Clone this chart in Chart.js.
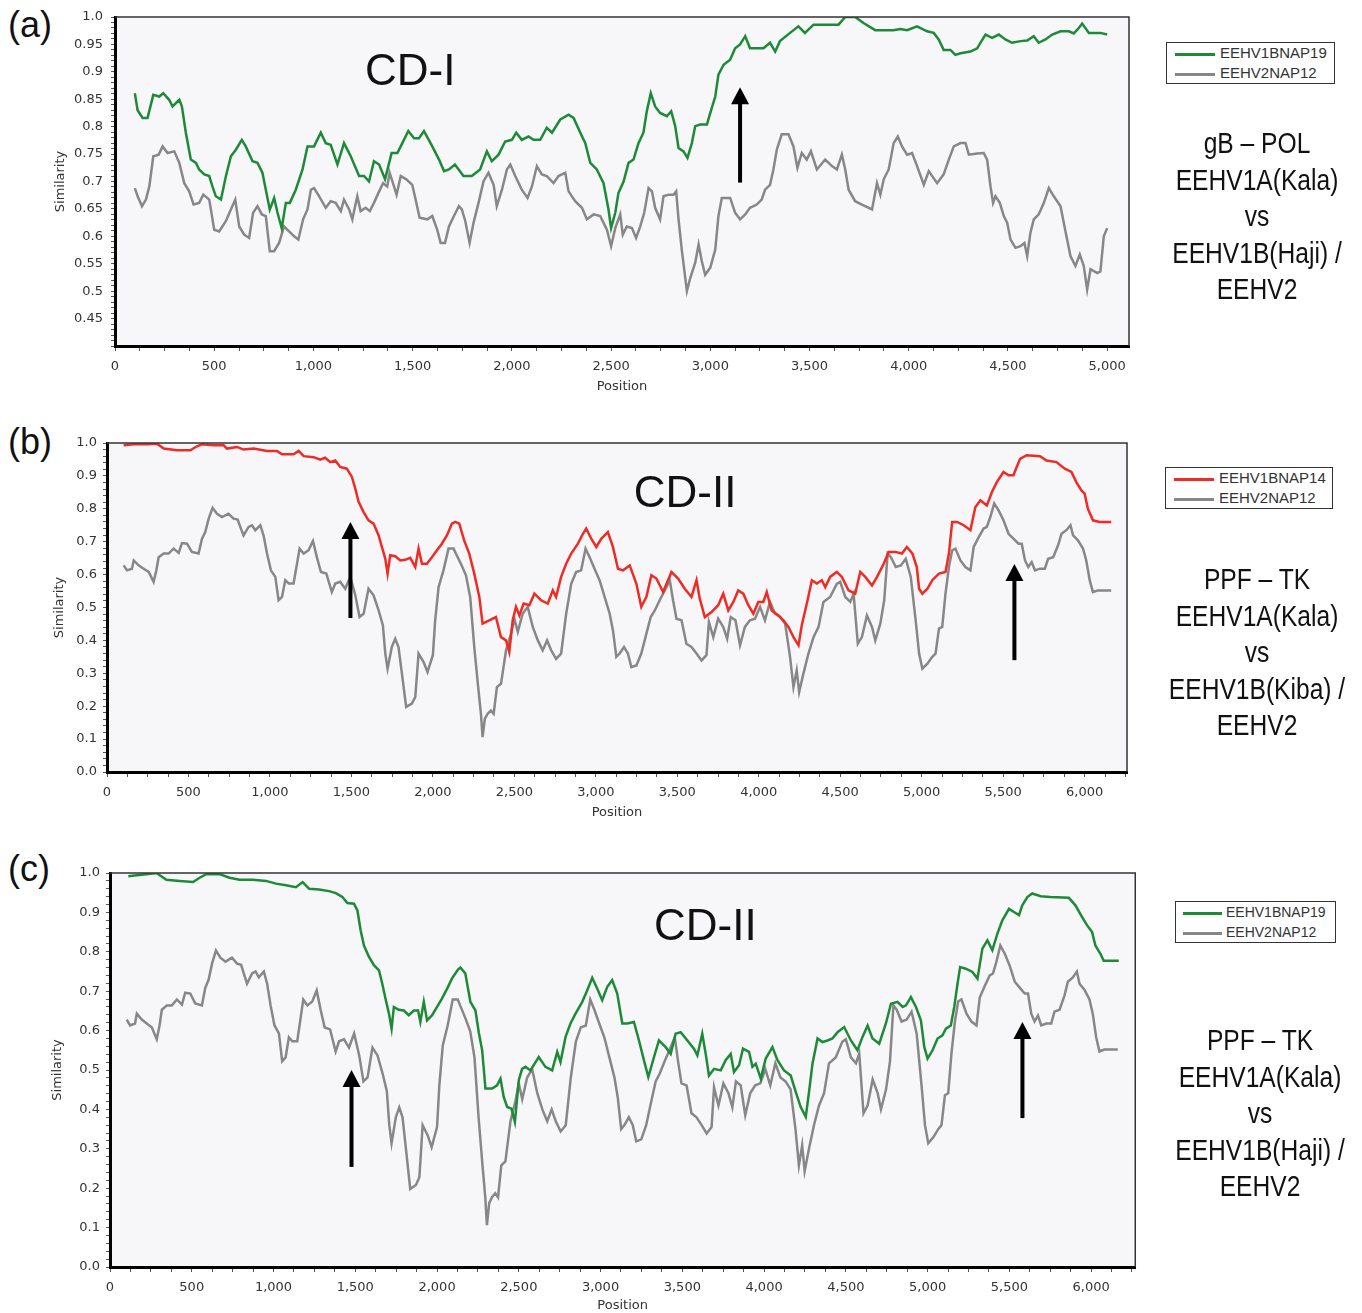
<!DOCTYPE html>
<html>
<head>
<meta charset="utf-8">
<title>Similarity plots</title>
<script src="https://cdn.jsdelivr.net/npm/chart.js@4.4.1/dist/chart.umd.min.js"></script>
<style>
    body {
        margin: 0;
        width: 1362px;
        height: 1313px;
        background: #fff;
        font-family: "Liberation Sans", Arial, sans-serif;
        overflow: hidden;
        position: relative;
    }

    canvas {
        position: absolute;
        left: 0;
    }

    .panel-tag {
        position: absolute;
        left: 8px;
        font-size: 36px;
        line-height: 40px;
        color: #111;
    }

    .legend {
        position: absolute;
        border: 1.5px solid #333;
        background: #fff;
        font-size: 15px;
        color: #333;
    }

    .legend .row {
        height: 20px;
        line-height: 20px;
        white-space: nowrap;
    }

    .legend .swatch {
        display: inline-block;
        width: 40px;
        height: 3px;
        margin: 0 5px 0 8px;
        vertical-align: middle;
    }

    #legendC {
        font-size: 14px;
    }

    #legendC .swatch {
        width: 39px;
        margin: 0 4px 0 7px;
    }

    .side {
        position: absolute;
        width: 300px;
        text-align: center;
        font-size: 30px;
        line-height: 36.5px;
        color: #111;
        transform: scaleX(0.82);
    }
</style>
</head>
<body>

<div class="panel-tag" style="top: 5px">(a)</div>
<div class="panel-tag" style="top: 422px">(b)</div>
<div class="panel-tag" style="top: 849px">(c)</div>

<canvas id="chartA" width="1140" height="400" style="top: 0"></canvas>
<canvas id="chartB" width="1140" height="406" style="top: 420px"></canvas>
<canvas id="chartC" width="1140" height="463" style="top: 850px"></canvas>

<div class="legend" id="legendA" style="left: 1166px; top: 42px; width: 167px"></div>
<div class="legend" id="legendB" style="left: 1165px; top: 467px; width: 166px"></div>
<div class="legend" id="legendC" style="left: 1175px; top: 901px; width: 159px"></div>

<div class="side" style="left: 1107px; top: 125px">gB – POL<br>EEHV1A(Kala)<br>vs<br>EEHV1B(Haji) /<br>EEHV2</div>
<div class="side" style="left: 1107px; top: 561px">PPF – TK<br>EEHV1A(Kala)<br>vs<br>EEHV1B(Kiba) /<br>EEHV2</div>
<div class="side" style="left: 1110px; top: 1022px">PPF – TK<br>EEHV1A(Kala)<br>vs<br>EEHV1B(Haji) /<br>EEHV2</div>

<script>
// =========================
// DATA (a) gB - POL
// =========================

const aGreenPos = [
    100, 114, 139, 164, 193, 223, 243, 273, 290, 324, 337, 357, 382, 408, 424, 450, 475, 491, 508, 534,
    559, 584, 609, 639, 659, 693, 718, 743, 760, 780, 802, 819, 840, 861, 881, 911, 945, 970, 1003, 1037,
    1062, 1087, 1121, 1154, 1188, 1230, 1255, 1280, 1305, 1331, 1361, 1394, 1423, 1448, 1478, 1507, 1532, 1557, 1599, 1633,
    1658, 1683, 1713, 1756, 1798, 1840, 1874, 1899, 1933, 1966, 2000, 2022, 2050, 2084, 2109, 2143, 2176, 2202, 2244, 2286,
    2311, 2345, 2370, 2395, 2428, 2462, 2487, 2500, 2521, 2537, 2563, 2588, 2613, 2638, 2663, 2680, 2700, 2722, 2747, 2781,
    2803, 2823, 2840, 2865, 2885, 2907, 2924, 2949, 2983, 3000, 3025, 3041, 3067, 3100, 3125, 3150, 3176, 3200, 3234, 3268,
    3301, 3327, 3351, 3402, 3444, 3477, 3520, 3570, 3646, 3680, 3730, 3772, 3831, 3923, 3958, 3992, 4042, 4092, 4126, 4151,
    4176, 4210, 4235, 4261, 4311, 4345, 4361, 4387, 4420, 4454, 4487, 4521, 4563, 4597, 4630, 4655, 4689, 4723, 4765, 4807,
    4832, 4857, 4874, 4908, 4966, 5000
];
const aGreenSim = [
    0.861, 0.83, 0.816, 0.816, 0.858, 0.855, 0.861, 0.849, 0.837, 0.849, 0.837, 0.789, 0.74, 0.734, 0.722, 0.713, 0.71, 0.691, 0.673, 0.667,
    0.71, 0.746, 0.758, 0.776, 0.764, 0.737, 0.734, 0.716, 0.685, 0.649, 0.67, 0.643, 0.615, 0.661, 0.661, 0.685, 0.722, 0.764, 0.764, 0.789,
    0.77, 0.767, 0.731, 0.77, 0.746, 0.71, 0.71, 0.7, 0.737, 0.731, 0.704, 0.752, 0.752, 0.77, 0.792, 0.779, 0.779, 0.792, 0.764, 0.74,
    0.719, 0.722, 0.731, 0.71, 0.71, 0.722, 0.755, 0.737, 0.749, 0.773, 0.776, 0.789, 0.776, 0.782, 0.776, 0.776, 0.798, 0.789, 0.813, 0.822,
    0.816, 0.789, 0.77, 0.734, 0.722, 0.697, 0.649, 0.615, 0.643, 0.679, 0.7, 0.734, 0.74, 0.77, 0.789, 0.828, 0.861, 0.837, 0.825, 0.819,
    0.828, 0.801, 0.761, 0.755, 0.743, 0.77, 0.801, 0.804, 0.804, 0.825, 0.855, 0.895, 0.913, 0.922, 0.943, 0.95, 0.965, 0.943, 0.943, 0.943,
    0.953, 0.937, 0.956, 0.971, 0.983, 0.971, 0.986, 0.986, 0.986, 1.0, 1.0, 0.989, 0.976, 0.976, 0.978, 0.976, 0.983, 0.974, 0.971, 0.959,
    0.94, 0.94, 0.931, 0.934, 0.937, 0.943, 0.953, 0.968, 0.962, 0.968, 0.959, 0.953, 0.956, 0.957, 0.965, 0.953, 0.959, 0.968, 0.974, 0.974,
    0.97, 0.98, 0.988, 0.971, 0.971, 0.968
];

const aGrayPos = [
    100, 114, 136, 156, 173, 193, 220, 240, 265, 299, 324, 349, 374, 396, 424, 445, 475, 500, 525, 559,
    584, 606, 626, 651, 676, 696, 718, 740, 760, 780, 802, 827, 852, 877, 903, 924, 948, 970, 987, 1003,
    1029, 1062, 1087, 1112, 1138, 1154, 1180, 1196, 1221, 1238, 1263, 1284, 1305, 1331, 1351, 1372, 1384, 1406, 1419, 1440,
    1468, 1498, 1515, 1535, 1574, 1599, 1624, 1641, 1663, 1683, 1708, 1733, 1748, 1765, 1787, 1807, 1832, 1857, 1882, 1908,
    1924, 1950, 1975, 1992, 2017, 2050, 2079, 2101, 2126, 2151, 2176, 2210, 2235, 2269, 2286, 2319, 2353, 2378, 2412, 2445,
    2479, 2500, 2521, 2546, 2559, 2579, 2605, 2626, 2647, 2667, 2689, 2706, 2722, 2747, 2764, 2789, 2815, 2828, 2840, 2857,
    2882, 2899, 2924, 2941, 2957, 2974, 3000, 3025, 3041, 3058, 3100, 3125, 3150, 3176, 3200, 3234, 3259, 3276, 3301, 3318,
    3335, 3360, 3394, 3419, 3439, 3461, 3486, 3507, 3537, 3579, 3613, 3638, 3663, 3680, 3697, 3730, 3764, 3815, 3840, 3857,
    3874, 3899, 3924, 3945, 3966, 3992, 4017, 4042, 4076, 4101, 4143, 4176, 4202, 4227, 4261, 4286, 4303, 4345, 4378, 4395,
    4412, 4425, 4437, 4459, 4479, 4496, 4513, 4538, 4563, 4583, 4597, 4613, 4630, 4655, 4681, 4706, 4731, 4765, 4790, 4815,
    4840, 4862, 4882, 4899, 4916, 4950, 4966, 4983, 5000
];
const aGraySim = [
    0.688, 0.673, 0.655, 0.667, 0.691, 0.746, 0.749, 0.764, 0.752, 0.755, 0.734, 0.697, 0.682, 0.658, 0.661, 0.676, 0.667, 0.612, 0.609, 0.628,
    0.649, 0.667, 0.618, 0.603, 0.597, 0.643, 0.655, 0.64, 0.637, 0.573, 0.573, 0.588, 0.618, 0.609, 0.6, 0.594, 0.631, 0.649, 0.685, 0.688,
    0.673, 0.652, 0.664, 0.661, 0.646, 0.667, 0.649, 0.631, 0.673, 0.646, 0.652, 0.646, 0.661, 0.682, 0.697, 0.691, 0.716, 0.691, 0.676, 0.71,
    0.704, 0.694, 0.667, 0.634, 0.631, 0.637, 0.612, 0.588, 0.588, 0.618, 0.637, 0.655, 0.649, 0.628, 0.588, 0.625, 0.661, 0.7, 0.716, 0.694,
    0.655, 0.685, 0.722, 0.731, 0.71, 0.685, 0.67, 0.691, 0.728, 0.713, 0.71, 0.697, 0.71, 0.716, 0.682, 0.664, 0.652, 0.631, 0.64, 0.637,
    0.612, 0.582, 0.615, 0.64, 0.603, 0.618, 0.615, 0.597, 0.618, 0.643, 0.688, 0.682, 0.652, 0.631, 0.673, 0.676, 0.676, 0.682, 0.631, 0.573,
    0.5, 0.524, 0.552, 0.585, 0.555, 0.53, 0.543, 0.576, 0.637, 0.67, 0.67, 0.643, 0.631, 0.64, 0.652, 0.658, 0.667, 0.685, 0.694, 0.722,
    0.758, 0.786, 0.786, 0.764, 0.725, 0.752, 0.74, 0.755, 0.722, 0.74, 0.728, 0.722, 0.749, 0.722, 0.685, 0.664, 0.658, 0.649, 0.697, 0.676,
    0.704, 0.722, 0.77, 0.782, 0.764, 0.749, 0.752, 0.728, 0.694, 0.719, 0.697, 0.713, 0.74, 0.764, 0.77, 0.77, 0.749, 0.751, 0.752, 0.74,
    0.691, 0.661, 0.673, 0.661, 0.637, 0.625, 0.594, 0.579, 0.582, 0.588, 0.564, 0.606, 0.631, 0.64, 0.661, 0.688, 0.673, 0.655, 0.609, 0.564,
    0.546, 0.567, 0.546, 0.503, 0.54, 0.533, 0.536, 0.6, 0.615
];

// =========================
// DATA (b) PPF - TK, Kiba
// =========================

const bRedPos = [
    102, 164, 245, 307, 348, 429, 511, 552, 583, 654, 716, 736, 798, 838, 900, 982, 1043, 1074, 1145, 1176,
    1207, 1268, 1309, 1339, 1370, 1401, 1431, 1472, 1503, 1524, 1544, 1575, 1605, 1636, 1667, 1687, 1708, 1722, 1738, 1769,
    1800, 1830, 1861, 1892, 1912, 1933, 1963, 1994, 2025, 2055, 2086, 2117, 2137, 2162, 2192, 2223, 2254, 2285, 2305, 2346,
    2387, 2418, 2449, 2469, 2490, 2510, 2531, 2557, 2592, 2623, 2664, 2705, 2736, 2756, 2787, 2818, 2849, 2890, 2921, 2941,
    2972, 3003, 3033, 3074, 3105, 3136, 3167, 3208, 3249, 3279, 3310, 3341, 3372, 3413, 3464, 3505, 3546, 3587, 3618, 3638,
    3669, 3710, 3751, 3782, 3813, 3844, 3874, 3905, 3936, 3967, 3997, 4028, 4049, 4079, 4121, 4151, 4182, 4213, 4244, 4264,
    4295, 4326, 4356, 4387, 4408, 4438, 4479, 4510, 4551, 4592, 4623, 4654, 4695, 4726, 4767, 4797, 4838, 4879, 4909, 4943,
    4970, 4984, 5004, 5035, 5065, 5106, 5146, 5167, 5187, 5217, 5258, 5299, 5329, 5360, 5400, 5431, 5461, 5502, 5533, 5563,
    5583, 5604, 5644, 5726, 5766, 5827, 5878, 5919, 5949, 5980, 6000, 6020, 6051, 6091, 6163
];
const bRedSim = [
    0.993, 0.996, 0.996, 0.998, 0.983, 0.978, 0.978, 0.99, 0.996, 0.993, 0.993, 0.983, 0.988, 0.98, 0.983, 0.976, 0.976, 0.966, 0.966, 0.976,
    0.96, 0.957, 0.949, 0.955, 0.942, 0.947, 0.927, 0.922, 0.897, 0.861, 0.821, 0.79, 0.765, 0.755, 0.719, 0.684, 0.648, 0.603, 0.659, 0.656,
    0.643, 0.645, 0.651, 0.623, 0.679, 0.633, 0.633, 0.653, 0.674, 0.694, 0.719, 0.755, 0.76, 0.755, 0.704, 0.664, 0.603, 0.532, 0.451, 0.461,
    0.471, 0.41, 0.4, 0.365, 0.461, 0.502, 0.476, 0.512, 0.507, 0.542, 0.522, 0.512, 0.552, 0.532, 0.593, 0.633, 0.664, 0.694, 0.724, 0.74,
    0.709, 0.684, 0.709, 0.729, 0.684, 0.618, 0.613, 0.628, 0.572, 0.502, 0.532, 0.598, 0.588, 0.547, 0.608, 0.588, 0.557, 0.532, 0.583, 0.527,
    0.471, 0.486, 0.507, 0.542, 0.491, 0.517, 0.552, 0.542, 0.507, 0.481, 0.517, 0.517, 0.547, 0.491, 0.476, 0.461, 0.441, 0.41, 0.385, 0.446,
    0.512, 0.583, 0.573, 0.583, 0.562, 0.593, 0.608, 0.593, 0.552, 0.542, 0.608, 0.593, 0.567, 0.593, 0.633, 0.669, 0.669, 0.664, 0.684, 0.664,
    0.623, 0.557, 0.542, 0.557, 0.583, 0.603, 0.608, 0.664, 0.76, 0.76, 0.75, 0.735, 0.805, 0.826, 0.81, 0.851, 0.881, 0.912, 0.902, 0.902,
    0.927, 0.952, 0.963, 0.96, 0.947, 0.942, 0.922, 0.912, 0.881, 0.856, 0.846, 0.8, 0.765, 0.76, 0.76
];

// same EEHV2NAP12 trace in (b) and (c)
const tkGrayPos = [
    102, 123, 153, 164, 194, 225, 256, 286, 303, 317, 348, 378, 409, 440, 460, 491, 521, 562, 583, 603,
    624, 648, 675, 706, 746, 777, 802, 818, 838, 869, 890, 910, 941, 961, 982, 1006, 1033, 1053, 1074, 1094,
    1115, 1145, 1166, 1182, 1207, 1237, 1264, 1288, 1313, 1346, 1380, 1401, 1431, 1462, 1493, 1524, 1550, 1575, 1605, 1636,
    1667, 1693, 1708, 1722, 1748, 1769, 1789, 1810, 1836, 1871, 1892, 1912, 1943, 1967, 2000, 2014, 2035, 2065, 2096, 2127,
    2141, 2172, 2203, 2229, 2254, 2278, 2295, 2305, 2319, 2336, 2356, 2373, 2393, 2418, 2449, 2479, 2500, 2521, 2551, 2582,
    2613, 2644, 2674, 2701, 2726, 2756, 2787, 2818, 2849, 2879, 2910, 2937, 2962, 2992, 3023, 3054, 3085, 3105, 3126, 3146,
    3173, 3197, 3218, 3249, 3279, 3310, 3337, 3362, 3392, 3423, 3454, 3474, 3495, 3526, 3556, 3587, 3618, 3649, 3679, 3694,
    3721, 3751, 3782, 3806, 3828, 3857, 3885, 3915, 3946, 3977, 4008, 4038, 4069, 4100, 4131, 4162, 4192, 4213, 4233, 4248,
    4274, 4305, 4336, 4367, 4397, 4438, 4479, 4500, 4531, 4562, 4582, 4608, 4633, 4664, 4695, 4715, 4746, 4770, 4791, 4811,
    4841, 4872, 4902, 4933, 4963, 4984, 5004, 5035, 5065, 5085, 5106, 5126, 5146, 5167, 5187, 5207, 5238, 5268, 5299, 5319,
    5350, 5380, 5400, 5421, 5445, 5472, 5502, 5533, 5563, 5594, 5614, 5634, 5654, 5675, 5695, 5726, 5756, 5776, 5807, 5837,
    5858, 5888, 5913, 5929, 5959, 5990, 6010, 6031, 6051, 6081, 6163
];
const tkGraySim = [
    0.628, 0.613, 0.618, 0.643, 0.628, 0.618, 0.608, 0.578, 0.613, 0.653, 0.664, 0.664, 0.679, 0.666, 0.696, 0.694, 0.669, 0.664, 0.709, 0.729,
    0.77, 0.803, 0.785, 0.775, 0.785, 0.77, 0.767, 0.745, 0.719, 0.745, 0.75, 0.735, 0.75, 0.719, 0.664, 0.613, 0.593, 0.522, 0.532, 0.583,
    0.573, 0.573, 0.633, 0.679, 0.664, 0.674, 0.702, 0.653, 0.608, 0.603, 0.547, 0.573, 0.578, 0.557, 0.593, 0.537, 0.471, 0.481, 0.557, 0.537,
    0.491, 0.446, 0.36, 0.314, 0.38, 0.405, 0.38, 0.299, 0.198, 0.208, 0.228, 0.36, 0.334, 0.304, 0.355, 0.461, 0.562, 0.613, 0.679, 0.679,
    0.664, 0.633, 0.598, 0.532, 0.38, 0.258, 0.177, 0.106, 0.162, 0.177, 0.187, 0.177, 0.258, 0.268, 0.37, 0.42, 0.466, 0.426, 0.481, 0.502,
    0.441, 0.4, 0.37, 0.4, 0.37, 0.344, 0.36, 0.481, 0.572, 0.608, 0.613, 0.679, 0.653, 0.618, 0.583, 0.532, 0.481, 0.431, 0.35, 0.36,
    0.38, 0.36, 0.319, 0.324, 0.36, 0.42, 0.471, 0.491, 0.522, 0.552, 0.583, 0.522, 0.466, 0.461, 0.39, 0.38, 0.36, 0.339, 0.355, 0.456,
    0.41, 0.466, 0.441, 0.405, 0.471, 0.461, 0.385, 0.441, 0.461, 0.466, 0.502, 0.461, 0.517, 0.481, 0.471, 0.451, 0.35, 0.258, 0.309, 0.243,
    0.299, 0.36, 0.41, 0.441, 0.517, 0.532, 0.572, 0.578, 0.532, 0.517, 0.542, 0.39, 0.41, 0.476, 0.441, 0.4, 0.451, 0.522, 0.664, 0.653,
    0.623, 0.628, 0.648, 0.593, 0.461, 0.36, 0.314, 0.329, 0.35, 0.36, 0.436, 0.441, 0.542, 0.623, 0.674, 0.679, 0.643, 0.623, 0.613, 0.684,
    0.714, 0.74, 0.745, 0.775, 0.816, 0.795, 0.765, 0.724, 0.709, 0.694, 0.694, 0.643, 0.623, 0.638, 0.613, 0.618, 0.618, 0.648, 0.653, 0.689,
    0.724, 0.735, 0.75, 0.719, 0.704, 0.679, 0.643, 0.583, 0.547, 0.552, 0.552
];

// =========================
// DATA (c) PPF - TK, Haji
// =========================

const cGreenPos = [
    112, 162, 223, 284, 345, 426, 508, 548, 589, 670, 731, 792, 873, 954, 1015, 1076, 1137, 1178, 1218, 1279,
    1340, 1381, 1421, 1452, 1492, 1513, 1533, 1553, 1584, 1614, 1645, 1665, 1685, 1706, 1722, 1736, 1766, 1797, 1827, 1858,
    1884, 1898, 1919, 1939, 1970, 2000, 2030, 2061, 2091, 2128, 2143, 2173, 2204, 2235, 2255, 2276, 2296, 2337, 2367, 2388,
    2408, 2429, 2455, 2476, 2500, 2520, 2541, 2571, 2622, 2663, 2704, 2735, 2755, 2786, 2816, 2847, 2888, 2918, 2949, 2980,
    3010, 3041, 3071, 3102, 3133, 3163, 3204, 3235, 3265, 3292, 3327, 3357, 3398, 3429, 3459, 3490, 3531, 3571, 3592, 3622,
    3643, 3663, 3694, 3735, 3765, 3796, 3816, 3847, 3871, 3908, 3929, 3949, 3980, 4010, 4051, 4082, 4122, 4163, 4194, 4224,
    4255, 4276, 4296, 4327, 4357, 4388, 4418, 4449, 4490, 4531, 4571, 4602, 4633, 4663, 4704, 4745, 4776, 4816, 4848, 4868,
    4898, 4929, 4959, 4980, 5000, 5030, 5061, 5091, 5112, 5142, 5163, 5183, 5199, 5234, 5274, 5305, 5335, 5366, 5396, 5427,
    5457, 5498, 5528, 5559, 5579, 5610, 5640, 5691, 5752, 5864, 5904, 5945, 5976, 6006, 6026, 6057, 6077, 6169
];
const cGreenSim = [
    0.992, 0.994, 0.997, 1.0, 0.983, 0.98, 0.977, 0.988, 0.997, 0.997, 0.988, 0.983, 0.983, 0.98, 0.973, 0.969, 0.964, 0.977, 0.96, 0.958,
    0.954, 0.949, 0.939, 0.924, 0.922, 0.905, 0.854, 0.816, 0.787, 0.766, 0.753, 0.719, 0.681, 0.643, 0.605, 0.66, 0.653, 0.651, 0.639, 0.651,
    0.651, 0.622, 0.673, 0.626, 0.639, 0.66, 0.681, 0.706, 0.732, 0.755, 0.76, 0.745, 0.673, 0.651, 0.596, 0.55, 0.453, 0.453, 0.461, 0.478,
    0.431, 0.406, 0.402, 0.368, 0.474, 0.503, 0.508, 0.499, 0.533, 0.508, 0.499, 0.546, 0.52, 0.584, 0.618, 0.643, 0.673, 0.702, 0.734, 0.706,
    0.677, 0.711, 0.728, 0.694, 0.618, 0.618, 0.622, 0.575, 0.525, 0.482, 0.533, 0.575, 0.558, 0.541, 0.592, 0.596, 0.575, 0.554, 0.537, 0.592,
    0.541, 0.486, 0.503, 0.499, 0.525, 0.541, 0.495, 0.512, 0.554, 0.546, 0.508, 0.516, 0.478, 0.529, 0.558, 0.525, 0.499, 0.486, 0.444, 0.406,
    0.381, 0.448, 0.516, 0.58, 0.571, 0.575, 0.58, 0.596, 0.609, 0.575, 0.55, 0.584, 0.613, 0.58, 0.567, 0.618, 0.668, 0.673, 0.66, 0.664,
    0.685, 0.66, 0.626, 0.558, 0.529, 0.55, 0.58, 0.588, 0.605, 0.613, 0.66, 0.719, 0.761, 0.757, 0.749, 0.732, 0.808, 0.829, 0.804, 0.846,
    0.88, 0.909, 0.901, 0.893, 0.918, 0.939, 0.948, 0.941, 0.939, 0.937, 0.918, 0.888, 0.867, 0.85, 0.816, 0.795, 0.777, 0.777
];

const GREEN = "#1d8a37";
const RED = "#ee2b24";
const GRAY = "#878787";

const tickFont = { family: "'DejaVu Sans', sans-serif", size: 13 };
const tickColor = "#333";

const toPoints = (xs, ys) => xs.map((x, i) => ({ x: x, y: ys[i] }));

// =========================
// plot frame, CD label, arrows
// =========================

const decor = {
    id: "decor",

    beforeDraw(chart) {
        const { ctx, chartArea } = chart;
        ctx.save();
        ctx.fillStyle = "#f7f6f9";
        ctx.fillRect(chartArea.left, chartArea.top, chartArea.width, chartArea.height);
        ctx.restore();
    },

    afterDraw(chart) {
        const { ctx, chartArea, scales } = chart;
        const opts = chart.options.plugins.decor;

        ctx.save();

        // top and right edge of the frame
        ctx.strokeStyle = "#333";
        ctx.lineWidth = 1.5;
        ctx.beginPath();
        ctx.moveTo(chartArea.left, chartArea.top);
        ctx.lineTo(chartArea.right, chartArea.top);
        ctx.lineTo(chartArea.right, chartArea.bottom);
        ctx.stroke();

        // region label
        ctx.fillStyle = "#111";
        ctx.font = "44px 'Liberation Sans', Arial, sans-serif";
        ctx.textBaseline = "middle";
        ctx.textAlign = "left";
        ctx.fillText(opts.label, scales.x.getPixelForValue(opts.labelAt[0]), scales.y.getPixelForValue(opts.labelAt[1]));

        // arrows: [position, from, to]
        opts.arrows.forEach(([pos, from, to]) => {
            const x = scales.x.getPixelForValue(pos);
            const yFrom = scales.y.getPixelForValue(from);
            const yTo = scales.y.getPixelForValue(to);

            ctx.strokeStyle = "#000";
            ctx.lineWidth = 4;
            ctx.beginPath();
            ctx.moveTo(x, yFrom);
            ctx.lineTo(x, yTo + 14);
            ctx.stroke();

            ctx.fillStyle = "#000";
            ctx.beginPath();
            ctx.moveTo(x, yTo);
            ctx.lineTo(x - 9, yTo + 17);
            ctx.lineTo(x + 9, yTo + 17);
            ctx.closePath();
            ctx.fill();
        });

        ctx.restore();
    },
};

function makeChart(id, cfg) {
    const ctx = document.getElementById(id);

    return new Chart(ctx, {
        type: "line",

        data: {
            datasets: cfg.series.map((s) => ({
                label: s.label,
                data: toPoints(s.pos, s.sim),
                borderColor: s.color,
                backgroundColor: s.color,
                borderWidth: 2.5,
                pointRadius: 0,
                tension: 0,
                fill: false,
            })),
        },

        options: {
            responsive: false,
            animation: false,
            layout: { padding: cfg.padding },

            plugins: {
                legend: { display: false },
                tooltip: { enabled: false },
                decor: cfg.decor,
            },

            scales: {
                x: {
                    type: "linear",
                    min: 0,
                    max: cfg.xMax,
                    afterFit: (scale) => {
                        scale.height = cfg.xHeight;
                    },
                    // ticks every 125, labels every 500
                    afterBuildTicks: (scale) => {
                        const ticks = [];
                        for (let v = 0; v <= cfg.xMax; v += 125) ticks.push({ value: v });
                        scale.ticks = ticks;
                    },
                    ticks: {
                        autoSkip: false,
                        maxRotation: 0,
                        padding: 8,
                        font: tickFont,
                        color: tickColor,
                        callback: (value) => (value % 500 === 0 ? value.toLocaleString("en-US") : ""),
                    },
                    grid: {
                        drawOnChartArea: false,
                        tickLength: 5,
                        color: "#555",
                    },
                    border: { color: "#000", width: 3 },
                    title: {
                        display: true,
                        text: "Position",
                        font: tickFont,
                        color: tickColor,
                        padding: { top: 0, bottom: cfg.xTitlePad },
                    },
                },

                y: {
                    min: cfg.yMin,
                    max: 1.0,
                    afterFit: (scale) => {
                        scale.width = 62;
                    },
                    ticks: {
                        stepSize: cfg.yStep,
                        autoSkip: false,
                        padding: cfg.yTickPad,
                        font: tickFont,
                        color: tickColor,
                        callback: cfg.yLabel,
                    },
                    grid: {
                        drawOnChartArea: false,
                        tickLength: 4,
                        color: "#555",
                    },
                    border: { color: "#000", width: 3 },
                    title: {
                        display: true,
                        text: "Similarity",
                        font: tickFont,
                        color: tickColor,
                        padding: { top: cfg.yTitlePad, bottom: 0 },
                    },
                },
            },
        },

        plugins: [decor],
    });
}

function fillLegend(chart, id) {
    const box = document.getElementById(id);

    box.innerHTML = chart.data.datasets
        .map((ds) => `<div class="row"><span class="swatch" style="background:${ds.borderColor}"></span>${ds.label}</div>`)
        .join("");
}

// labels every 0.05 on (a), every 0.1 on (b) and (c)
const labelA = (value) => {
    const r = Math.round(value * 100);
    if (r % 5 !== 0 || r < 45) return "";
    return r === 100 ? "1.0" : String(r / 100);
};
const labelBC = (value) => {
    const r = Math.round(value * 100);
    return r % 10 === 0 ? (r / 100).toFixed(1) : "";
};

// =========================
// (a)
// =========================

const chartA = makeChart("chartA", {
    series: [
        { label: "EEHV1BNAP19", pos: aGreenPos, sim: aGreenSim, color: GREEN },
        { label: "EEHV2NAP12", pos: aGrayPos, sim: aGraySim, color: GRAY },
    ],
    padding: { left: 53, top: 17, right: 11, bottom: 0 },
    xMax: 5110,
    xHeight: 54,
    xTitlePad: 6,
    yMin: 0.4,
    yStep: 0.01,
    yTickPad: 8,
    yTitlePad: 0,
    yLabel: labelA,
    decor: {
        label: "CD-I",
        labelAt: [1260, 0.898],
        arrows: [[3150, 0.698, 0.872]],
    },
});
fillLegend(chartA, "legendA");

// =========================
// (b)
// =========================

const chartB = makeChart("chartB", {
    series: [
        { label: "EEHV1BNAP14", pos: bRedPos, sim: bRedSim, color: RED },
        { label: "EEHV2NAP12", pos: tkGrayPos, sim: tkGraySim, color: GRAY },
    ],
    padding: { left: 45, top: 23, right: 13, bottom: 0 },
    xMax: 6260,
    xHeight: 54,
    xTitlePad: 6,
    yMin: 0,
    yStep: 0.02,
    yTickPad: 6,
    yTitlePad: 7,
    yLabel: labelBC,
    decor: {
        label: "CD-II",
        labelAt: [3233, 0.842],
        arrows: [
            [1494, 0.468, 0.76],
            [5569, 0.34, 0.632],
        ],
    },
});
fillLegend(chartB, "legendB");

// =========================
// (c)
// =========================

const chartC = makeChart("chartC", {
    series: [
        { label: "EEHV1BNAP19", pos: cGreenPos, sim: cGreenSim, color: GREEN },
        { label: "EEHV2NAP12", pos: tkGrayPos, sim: tkGraySim, color: GRAY },
    ],
    padding: { left: 48, top: 23, right: 2, bottom: 0 },
    xMax: 6270,
    xHeight: 46,
    xTitlePad: 0,
    yMin: 0,
    yStep: 0.02,
    yTickPad: 6,
    yTitlePad: 2,
    yLabel: labelBC,
    decor: {
        label: "CD-II",
        labelAt: [3327, 0.86],
        arrows: [
            [1477, 0.254, 0.5],
            [5580, 0.378, 0.622],
        ],
    },
});
fillLegend(chartC, "legendC");
</script>
</body>
</html>
